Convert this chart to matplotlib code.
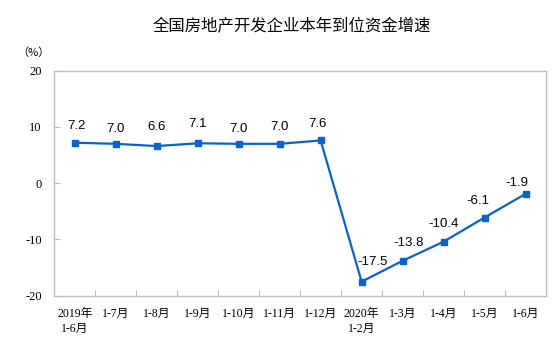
import matplotlib
matplotlib.use("Agg")
import matplotlib.pyplot as plt
from matplotlib.ticker import FixedLocator, NullFormatter

plt.rcParams['axes.unicode_minus'] = False

title = "全国房地产开发企业本年到位资金增速"
categories = ["2019年\n1-6月", "1-7月", "1-8月", "1-9月", "1-10月", "1-11月",
              "1-12月", "2020年\n1-2月", "1-3月", "1-4月", "1-5月", "1-6月"]
values = [7.2, 7.0, 6.6, 7.1, 7.0, 7.0, 7.6, -17.5, -13.8, -10.4, -6.1, -1.9]
y_ticks = [-20, -10, 0, 10, 20]
label_offsets = [(1, 12), (0, 11), (0, 14), (0, 14), (0, 11), (0, 12),
                 (-2, 12), (8, 14), (4, 13), (0, 13), (-5, 12), (-6, 8)]

blue = '#0A64C8'
gray = '#BFBFBF'
serif_cjk = ['Liberation Serif', 'Noto Sans CJK SC']

fig = plt.figure(figsize=(5.53, 3.60), dpi=100)
ax = fig.add_axes([54.3 / 553, 1 - 295.7 / 360, (546 - 54.3) / 553, (295.7 - 70.7) / 360])

x = list(range(len(values)))
ax.plot(x, values, color=blue, lw=1.6, marker='s', markersize=4.2,
        markerfacecolor=blue, markeredgecolor=blue)

for xi, v, (dx, dy) in zip(x, values, label_offsets):
    ax.annotate(f"{v:.1f}", (xi, v), xytext=(dx, dy), textcoords='offset points',
                ha='center', va='center', fontsize=9.5, family='Liberation Sans',
                color='black')

ax.set_xlim(-0.5, len(values) - 0.5)
ax.set_ylim(-20, 20)

# major ticks at category boundaries, labels at minor positions (centers)
ax.xaxis.set_major_locator(FixedLocator([i + 0.5 for i in range(len(values) - 1)]))
ax.xaxis.set_major_formatter(NullFormatter())
ax.xaxis.set_minor_locator(FixedLocator(x))
ax.set_xticks(x, categories, minor=True)
ax.tick_params(axis='x', which='major', direction='in', length=4, color=gray, width=0.8)
ax.tick_params(axis='x', which='minor', length=0, pad=9)
for lab in ax.get_xticklabels(minor=True):
    lab.set_family(serif_cjk)
    lab.set_fontsize(8.5)
    lab.set_linespacing(1.25)

ax.set_yticks(y_ticks)
ax.set_yticklabels([str(t) for t in y_ticks])
ax.tick_params(axis='y', direction='in', length=4, color=gray, width=0.8, pad=9)
for lab in ax.get_yticklabels():
    lab.set_family(serif_cjk)
    lab.set_fontsize(9)

for s in ax.spines.values():
    s.set_color(gray)
    s.set_linewidth(1.0)

fig.text(292 / 553, 1 - 26.5 / 360, title, ha='center', va='center',
         fontsize=11.8, family=['Noto Sans CJK SC', 'DejaVu Sans'])
fig.text(33 / 553, 1 - 53 / 360, "（%）", ha='center', va='center',
         fontsize=8, family=['Noto Sans CJK SC', 'DejaVu Sans'])

fig.savefig("out.png", dpi=100)
